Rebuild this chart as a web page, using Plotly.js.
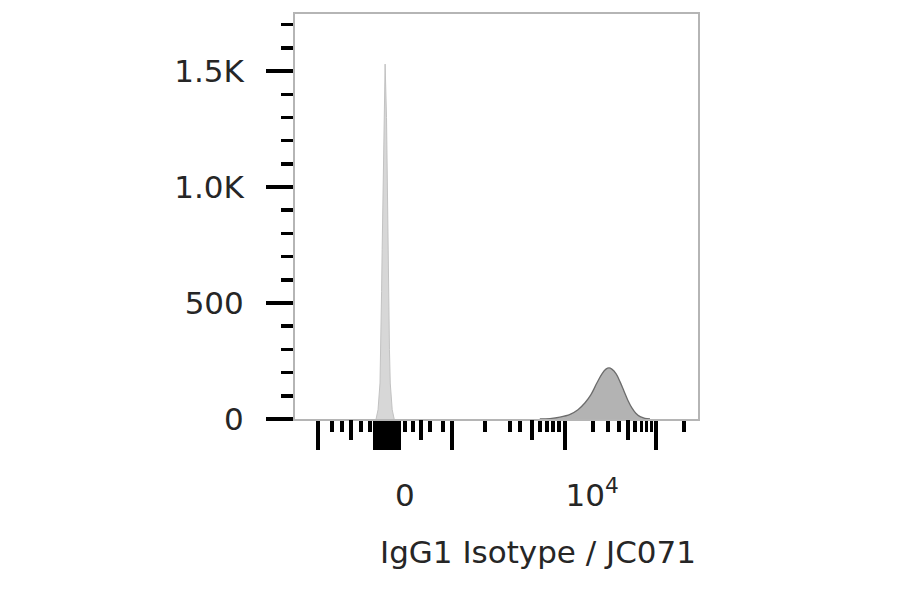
<!DOCTYPE html>
<html>
<head>
<meta charset="utf-8">
<script src="https://cdn.plot.ly/plotly-3.0.1.min.js"></script>
<style>html,body{margin:0;padding:0;background:#fff;}#chart{width:900px;height:594px;}</style>
</head>
<body>
<div id="chart"></div>
<script>
// Display channel scale (biexponential display, 0..1024 across the plot)
const isotypeChannel = [206, 211, 216, 218, 220, 221.5, 224, 225.5, 229, 232.5, 234, 236.5, 238, 240, 242, 247, 252];
const isotypeCount   = [0, 40, 155, 300, 550, 730, 1050, 1300, 1530, 1300, 1050, 730, 550, 300, 155, 40, 0];

const stainedChannel = [622, 648, 673, 699, 719, 737, 752, 767, 780, 790, 798, 805, 816, 826, 836, 846, 856, 866, 877, 889, 902];
const stainedCount   = [0, 2, 8, 20, 40, 70, 105, 155, 195, 215, 220, 215, 195, 160, 120, 80, 48, 25, 10, 3, 0];

// x-axis decade ticks (display channel positions)
const xMajorTicks  = [58, 204, 208, 212, 216, 220, 224, 228, 232, 236, 240, 244, 248, 252, 256, 260, 264, 399, 686, 917];
const xMediumTicks = [142, 320, 602, 846];
const xMinorTicks  = [94, 119, 168, 191, 280, 300, 343, 376, 483, 546, 572, 623, 640, 656, 671, 757, 795, 823, 864, 880, 893, 906, 988];
const xLabelPos    = [279, 755];
const xLabelText   = ['0', '10<sup>4</sup>'];

const yTickVals = [0, 500, 1000, 1500];
const yTickText = ['0', '500', '1.0K', '1.5K'];

const xTitle = 'IgG1 Isotype / JC071';

const FONT = 'DejaVu Sans, Liberation Sans, Arial, sans-serif';
const TXT = '#262626';
const FS = 31;

const traces = [
  {x: isotypeChannel, y: isotypeCount, type: 'scatter', mode: 'lines', fill: 'tozeroy',
   fillcolor: '#d7d7d7', line: {color: '#c2c2c2', width: 1}, hoverinfo: 'skip', xaxis: 'x', yaxis: 'y'},
  {x: stainedChannel, y: stainedCount, type: 'scatter', mode: 'lines', fill: 'tozeroy',
   fillcolor: '#b3b3b3', line: {color: '#6c6c6c', width: 1.3, shape: 'spline'}, hoverinfo: 'skip', xaxis: 'x', yaxis: 'y'},
  // empty traces so the overlaid tick/label axes are drawn
  {x: [], y: [], type: 'scatter', mode: 'lines', xaxis: 'x2', yaxis: 'y', hoverinfo: 'skip'},
  {x: [], y: [], type: 'scatter', mode: 'lines', xaxis: 'x3', yaxis: 'y', hoverinfo: 'skip'}
];

const layout = {
  width: 900, height: 594,
  margin: {l: 295, r: 202, t: 14, b: 175},
  paper_bgcolor: '#ffffff', plot_bgcolor: '#ffffff',
  showlegend: false,
  font: {family: FONT, color: TXT, size: FS},
  xaxis: {
    range: [0, 1024], showgrid: false, zeroline: false,
    showline: true, mirror: true, linecolor: '#b5b5b5', linewidth: 2,
    tickmode: 'array', tickvals: xMajorTicks, ticks: 'outside', ticklen: 29, tickwidth: 4.5, tickcolor: '#000',
    showticklabels: false,
    minor: {tickmode: 'array', tickvals: xMinorTicks, ticks: 'outside', ticklen: 11, tickwidth: 3.5, tickcolor: '#000', showgrid: false}
  },
  xaxis2: {
    overlaying: 'x', anchor: 'y', side: 'bottom', range: [0, 1024],
    showgrid: false, zeroline: false, showline: false,
    tickmode: 'array', tickvals: xMediumTicks, ticks: 'outside', ticklen: 20, tickwidth: 3.5, tickcolor: '#000',
    showticklabels: false
  },
  xaxis3: {
    overlaying: 'x', anchor: 'y', side: 'bottom', range: [0, 1024],
    showgrid: false, zeroline: false, showline: false,
    tickmode: 'array', tickvals: xLabelPos, ticktext: xLabelText,
    ticks: 'outside', ticklen: 49, tickwidth: 1, tickcolor: 'rgba(0,0,0,0)',
    tickfont: {family: FONT, size: FS, color: TXT}
  },
  yaxis: {
    range: [0, 1746], showgrid: false, zeroline: false,
    showline: true, mirror: true, linecolor: '#b5b5b5', linewidth: 2,
    tickmode: 'array', tickvals: yTickVals, ticktext: yTickText,
    ticks: 'outside', ticklen: 27, tickwidth: 4.5, tickcolor: '#000',
    ticklabelstandoff: 16,
    tickfont: {family: FONT, size: FS, color: TXT},
    minor: {tickmode: 'linear', tick0: 0, dtick: 100, ticks: 'outside', ticklen: 12, tickwidth: 3.5, tickcolor: '#000', showgrid: false}
  },
  annotations: [{
    text: xTitle, xref: 'paper', yref: 'paper', x: 1.0, y: -0.328,
    xanchor: 'right', yanchor: 'middle', showarrow: false,
    font: {family: FONT, size: FS, color: TXT}
  }]
};

Plotly.newPlot('chart', traces, layout, {staticPlot: true, displayModeBar: false});
</script>
</body>
</html>
